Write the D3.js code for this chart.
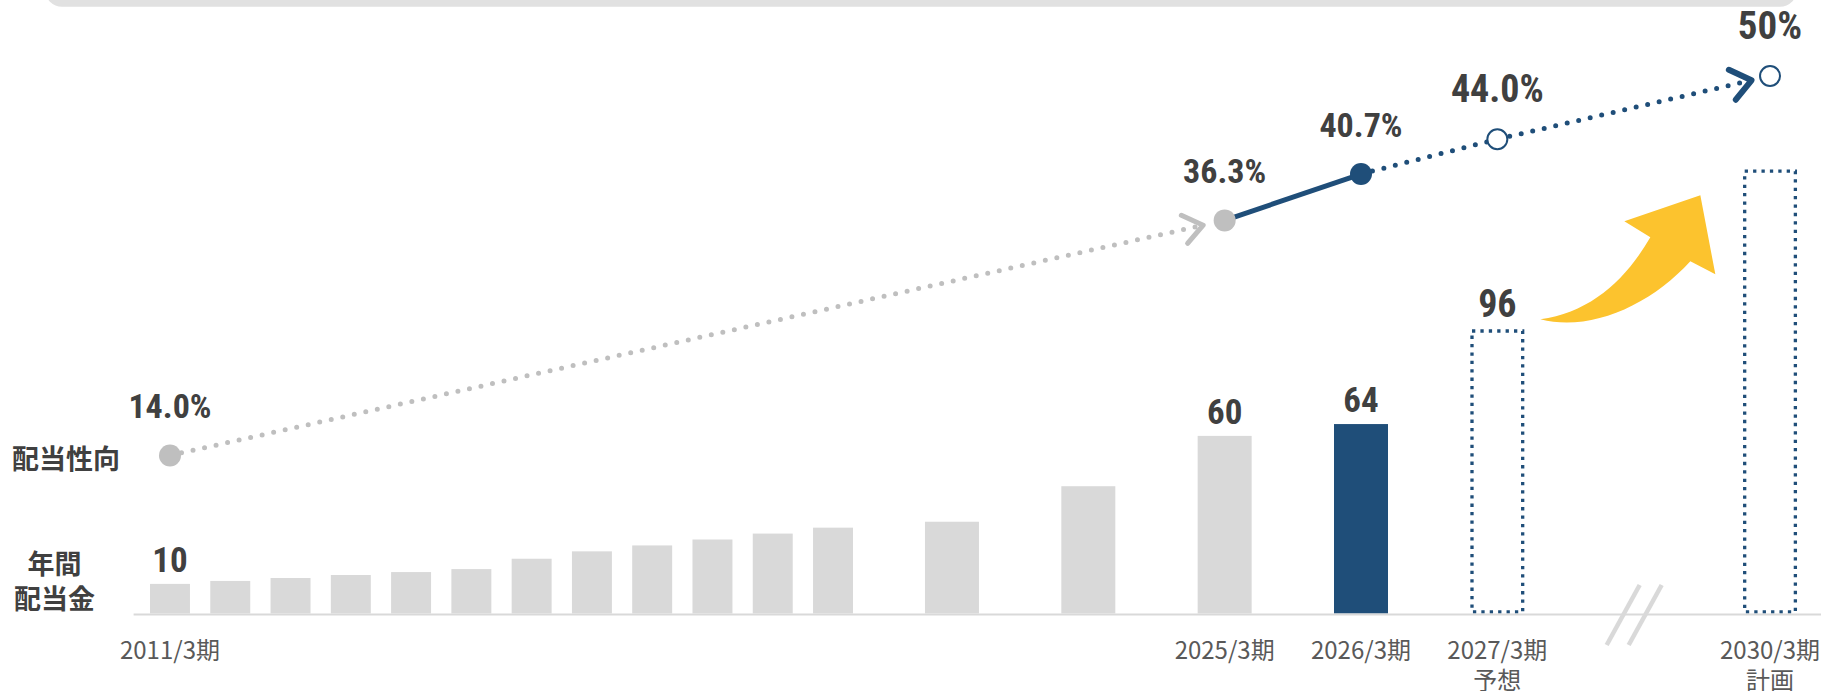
<!DOCTYPE html>
<html><head><meta charset="utf-8">
<script src="https://cdn.jsdelivr.net/npm/d3@7"></script>
<style>body{margin:0;background:#fff;} svg{display:block;}</style>
</head><body><div id="chart"></div>
<script>
// ---------- data ----------
const narrowCats = ["2011/3期","2012/3期","2013/3期","2014/3期","2015/3期","2016/3期",
                    "2017/3期","2018/3期","2019/3期","2020/3期","2021/3期","2022/3期"];
const wideCats = ["2023/3期","2024/3期","2025/3期","2026/3期","2027/3期","break","2030/3期"];
const dividendCats = ["2011/3期","2012/3期","2013/3期","2014/3期","2015/3期","2016/3期",
                      "2017/3期","2018/3期","2019/3期","2020/3期","2021/3期","2022/3期",
                      "2023/3期","2024/3期","2025/3期","2026/3期","2027/3期","2030/3期"];
const dividendValues = [10,11,12,13,14,15,18.5,21,23,25,27,29,31,43,60,64,96,150];
const dividendKinds = ["past","past","past","past","past","past","past","past","past","past",
                       "past","past","past","past","past","current","forecast","plan"];
const labeledDividends = ["2011/3期","2025/3期","2026/3期","2027/3期"];
const ratioCats = ["2011/3期","2025/3期","2026/3期","2027/3期","2030/3期"];
const ratioValues = [14.0,36.3,40.7,44.0,50];
const ratioLabels = ["14.0%","36.3%","40.7%","44.0%","50%"];
const ratioKinds = ["past","past","current","forecast","plan"];
const tickLabels = ["2011/3期","2025/3期","2026/3期","2027/3期","2030/3期"];
const tickSubLabels = ["","","","予想","計画"];
const sideLabelRatio = "配当性向";
const sideLabelDividend = ["年間","配当金"];

// ---------- setup ----------
const W = 1821, H = 691;
const GRAY = "#d9d9d9", NAVY = "#1f4e79", DOT_GRAY = "#bfbfbf", TXT = "#404040", TICK = "#595959";
const BOLD = "'Liberation Sans Narrow','Roboto Condensed','Liberation Sans','Noto Sans CJK JP',sans-serif";
const JP = "'Noto Sans CJK JP',sans-serif";
const labelSize = {past: 34, current: 34, forecast: 38, plan: 39};
const valueSize = {past: 35, current: 35, forecast: 38, plan: 38};

const svg = d3.select("#chart").append("svg").attr("width", W).attr("height", H);

const x1 = d3.scaleBand().domain(narrowCats).range([139.85, 863.15]).paddingInner(0.337).paddingOuter(0.1685);
const x2 = d3.scaleBand().domain(wideCats).range([883.8, 1838.2]).paddingInner(0.604).paddingOuter(0.302);
const xs = c => narrowCats.includes(c) ? x1 : x2;
const xStart = c => xs(c)(c);
const bw = c => xs(c).bandwidth();
const xc = c => xStart(c) + bw(c) / 2;

const yBar = d3.scaleLinear().domain([0, 150]).range([613.5, 169.5]);
const yRatio = d3.scaleLinear().domain([0, 50]).range([603, 76]);

// top decorative band
svg.append("rect").attr("x", 45).attr("y", -40).attr("width", 1752).attr("height", 46.7)
  .attr("rx", 17).attr("fill", "#e1e1e1");

// ---------- bars ----------
const bars = dividendCats.map((c, i) => ({c, v: dividendValues[i], k: dividendKinds[i]}));
svg.append("g").selectAll("rect").data(bars.filter(d => d.k === "past" || d.k === "current")).join("rect")
  .attr("x", d => xStart(d.c)).attr("width", d => bw(d.c))
  .attr("y", d => yBar(d.v)).attr("height", d => yBar(0) - yBar(d.v))
  .attr("fill", d => d.k === "current" ? NAVY : GRAY);
const sw = 3.3;
svg.append("g").selectAll("rect").data(bars.filter(d => d.k === "forecast" || d.k === "plan")).join("rect")
  .attr("x", d => xStart(d.c) + sw / 2).attr("width", d => bw(d.c) - sw)
  .attr("y", d => yBar(d.v) + sw / 2).attr("height", d => yBar(0) - yBar(d.v) - sw)
  .attr("fill", "none").attr("stroke", NAVY).attr("stroke-width", sw)
  .attr("stroke-dasharray", "3.3 5.1");

// baseline
svg.append("line").attr("x1", 133.6).attr("x2", W).attr("y1", 614.5).attr("y2", 614.5)
  .attr("stroke", GRAY).attr("stroke-width", 2);

// axis break marks
const bx = x2("break") + x2.bandwidth() / 2;
[-11, 11].forEach(o => {
  svg.append("line").attr("x1", bx + o - 16).attr("y1", 645).attr("x2", bx + o + 17).attr("y2", 585)
    .attr("stroke", GRAY).attr("stroke-width", 4.5);
});

// bar value labels
svg.append("g").selectAll("text").data(bars.filter(d => labeledDividends.includes(d.c))).join("text")
  .attr("x", d => xc(d.c)).attr("y", d => yBar(d.v) - 12)
  .attr("text-anchor", "middle").attr("font-family", BOLD).attr("font-weight", "bold")
  .attr("font-size", d => valueSize[d.k]).attr("fill", TXT).text(d => String(d.v));

// ---------- yellow arrow (anchored between forecast and plan bars) ----------
const ax = xStart("2027/3期") + bw("2027/3期"), ay = yBar(96);
svg.append("path")
  .attr("transform", `translate(${ax},${ay})`)
  .attr("d", "M16,-10 C66,3 126,-24 166,-68 L191,-55 L176,-134 L100,-108 L126,-92 C101,-49 66,-17 16,-10 Z")
  .attr("fill", "#fcc32e");

// ---------- payout ratio line ----------
const pts = ratioCats.map((c, i) => ({c, x: xc(c), y: yRatio(ratioValues[i]), v: ratioValues[i], lab: ratioLabels[i], k: ratioKinds[i]}));
const line = d3.line().x(d => d[0]).y(d => d[1]);

function tipBefore(a, b, dist) {
  const dx = b.x - a.x, dy = b.y - a.y, L = Math.hypot(dx, dy);
  const ux = dx / L, uy = dy / L;
  return {x: b.x - ux * dist, y: b.y - uy * dist, ux, uy};
}
function chevron(t, len, ang, color, width) {
  const a = ang * Math.PI / 180;
  const arm = s => {
    const c = Math.cos(s * a), sn = Math.sin(s * a);
    const rx = -(t.ux * c - t.uy * sn), ry = -(t.ux * sn + t.uy * c);
    return [t.x + rx * len, t.y + ry * len];
  };
  svg.append("path").attr("d", line([arm(1), [t.x, t.y], arm(-1)]))
    .attr("fill", "none").attr("stroke", color).attr("stroke-width", width)
    .attr("stroke-linecap", "round").attr("stroke-linejoin", "round");
}

// gray dotted history
const tGray = tipBefore(pts[0], pts[1], 22);
svg.append("path").attr("d", line([[pts[0].x, pts[0].y], [tGray.x - tGray.ux * 6, tGray.y - tGray.uy * 6]]))
  .attr("fill", "none").attr("stroke", DOT_GRAY).attr("stroke-width", 5)
  .attr("stroke-linecap", "round").attr("stroke-dasharray", "0 11.8");
chevron(tGray, 24, 37, DOT_GRAY, 5);

// navy solid
svg.append("path").attr("d", line([[pts[1].x, pts[1].y], [pts[2].x, pts[2].y]]))
  .attr("fill", "none").attr("stroke", NAVY).attr("stroke-width", 5);

// navy dotted future
const tNavy = tipBefore(pts[3], pts[4], 19);
svg.append("path").attr("d", line([[pts[2].x, pts[2].y], [pts[3].x, pts[3].y], [tNavy.x - tNavy.ux * 6, tNavy.y - tNavy.uy * 6]]))
  .attr("fill", "none").attr("stroke", NAVY).attr("stroke-width", 5)
  .attr("stroke-linecap", "round").attr("stroke-dasharray", "0 11.8");
chevron(tNavy, 25, 38, NAVY, 6);

// points
svg.append("g").selectAll("circle").data(pts).join("circle")
  .attr("cx", d => d.x).attr("cy", d => d.y)
  .attr("r", d => (d.k === "forecast" || d.k === "plan") ? 10 : 11)
  .attr("fill", d => d.k === "past" ? DOT_GRAY : d.k === "current" ? NAVY : "#fff")
  .attr("stroke", d => (d.k === "forecast" || d.k === "plan") ? NAVY : "none")
  .attr("stroke-width", 2);

// ratio labels
svg.append("g").selectAll("text").data(pts).join("text")
  .attr("x", d => d.x).attr("y", d => d.y - 37)
  .attr("text-anchor", "middle").attr("font-family", BOLD).attr("font-weight", "bold")
  .attr("font-size", d => labelSize[d.k]).attr("fill", TXT).text(d => d.lab);

// ---------- x tick labels ----------
const tg = svg.append("g").attr("font-family", JP).attr("font-size", 24).attr("fill", TICK);
tickLabels.forEach((t, i) => {
  const tx = tg.append("text").attr("x", xc(t)).attr("y", 659).attr("text-anchor", "middle");
  tx.append("tspan").attr("x", xc(t)).attr("y", 659).text(t);
  if (tickSubLabels[i]) tx.append("tspan").attr("x", xc(t)).attr("y", 689).text(tickSubLabels[i]);
});

// ---------- side labels ----------
svg.append("text").attr("x", 12).attr("y", 469).attr("font-family", JP).attr("font-weight", "bold")
  .attr("font-size", 27).attr("fill", TXT).text(sideLabelRatio);
sideLabelDividend.forEach((t, i) => {
  svg.append("text").attr("x", 54.5).attr("y", 574 + i * 35).attr("text-anchor", "middle")
    .attr("font-family", JP).attr("font-weight", "bold").attr("font-size", 27).attr("fill", TXT).text(t);
});
</script>
</body></html>
